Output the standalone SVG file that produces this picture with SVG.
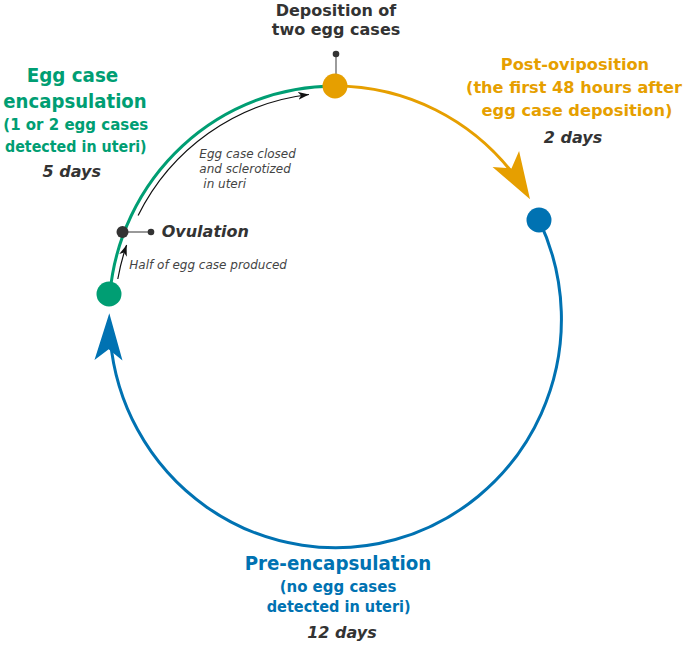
<svg xmlns="http://www.w3.org/2000/svg" width="693" height="646" viewBox="0 0 693 646">
<style>
text{font-family:"DejaVu Sans","Liberation Sans",sans-serif;}
.t{font-weight:bold;text-anchor:middle;}
.green{fill:#009E73;}
.orange{fill:#E69F00;}
.blue{fill:#0072B2;}
.gray{fill:#333333;}
.days{font-weight:bold;font-style:italic;font-size:16px;fill:#333333;text-anchor:middle;}
.note{font-style:italic;font-size:12px;fill:#444444;}
.arc{fill:none;stroke-width:3;}
.thin{fill:none;stroke:#111111;stroke-width:1.2;}
</style>
<defs>
<marker id="ah" markerUnits="userSpaceOnUse" markerWidth="12" markerHeight="10" refX="11" refY="4.5" orient="auto" viewBox="0 0 12 10">
<path d="M0,0.5 L11,4.5 L0,8.5 L3,4.5 z" fill="#111111"/>
</marker>
</defs>

<g id="connectors">
<path id="arc-green" class="arc" stroke="#009E73" d="M109.9 294 A226 228.5 0 0 1 335 86"/>
<path id="arc-orange" class="arc" stroke="#E69F00" d="M335 86 A226 228.5 0 0 1 515.5 177"/>
<polygon id="head-orange" fill="#E69F00" points="0,0 -47,-15.5 -36,0 -47,15.5" transform="translate(530 199.3) rotate(59)"/>
<path id="arc-blue" class="arc" stroke="#0072B2" d="M539 220 A226 228.5 0 1 1 110.3 339.3"/>
<polygon id="head-blue" fill="#0072B2" points="0,0 -47,-14 -36,0 -47,14" transform="translate(109.3 313.3) rotate(-89)"/>
<path id="arrow-closed" class="thin" marker-end="url(#ah)" d="M138.1 215.5 A220 222 0 0 1 309 94.5"/>
<path id="arrow-half" class="thin" marker-end="url(#ah)" d="M117.8 279 A220 222 0 0 1 126.6 245"/>
<line x1="122.5" y1="232" x2="151" y2="232" stroke="#555555" stroke-width="1.2"/>
<line x1="336" y1="54" x2="336" y2="75" stroke="#666666" stroke-width="1.3"/>
</g>

<g id="node-deposition">
<circle cx="336" cy="54" r="3.3" fill="#333333"/>
<circle cx="335" cy="86" r="12.5" fill="#E69F00"/>
<text class="t gray" font-size="16" x="336" y="16">Deposition of</text>
<text class="t gray" font-size="16" x="336" y="35">two egg cases</text>
</g>

<g id="node-post-oviposition">
<circle cx="539" cy="220" r="12.5" fill="#0072B2"/>
<text class="t orange" font-size="16.5" x="575" y="70" textLength="148.3" lengthAdjust="spacingAndGlyphs">Post-oviposition</text>
<text class="t orange" font-size="16.5" x="574" y="93.3" textLength="216" lengthAdjust="spacingAndGlyphs">(the first 48 hours after</text>
<text class="t orange" font-size="16.5" x="577" y="116" textLength="191" lengthAdjust="spacingAndGlyphs">egg case deposition)</text>
<text class="days" x="573" y="143.3">2 days</text>
</g>

<g id="node-encapsulation">
<circle cx="109" cy="294" r="12.5" fill="#009E73"/>
<text class="t green" font-size="19" x="72.5" y="81.7" textLength="91.6" lengthAdjust="spacingAndGlyphs">Egg case</text>
<text class="t green" font-size="19" x="75" y="108.3" textLength="143.4" lengthAdjust="spacingAndGlyphs">encapsulation</text>
<text class="t green" font-size="16" x="75.8" y="130" textLength="145" lengthAdjust="spacingAndGlyphs">(1 or 2 egg cases</text>
<text class="t green" font-size="16" x="75.8" y="151.7" textLength="141.7" lengthAdjust="spacingAndGlyphs">detected in uteri)</text>
<text class="days" x="71.7" y="176.7">5 days</text>
</g>

<g id="node-ovulation">
<circle cx="122.5" cy="232" r="6" fill="#333333"/>
<circle cx="151" cy="232" r="3.3" fill="#333333"/>
<text x="161.7" y="236.7" font-size="16" font-weight="bold" font-style="italic" fill="#333333">Ovulation</text>
</g>

<g id="labels-notes">
<text class="note" x="199.3" y="158.3">Egg case closed</text>
<text class="note" x="199.3" y="173.3">and sclerotized</text>
<text class="note" x="203.3" y="188.3">in uteri</text>
<text class="note" x="129.3" y="269.3">Half of egg case produced</text>
</g>

<g id="node-pre-encapsulation">
<text class="t blue" font-size="19" x="338" y="570" textLength="186.7" lengthAdjust="spacingAndGlyphs">Pre-encapsulation</text>
<text class="t blue" font-size="16" x="338" y="591.7" textLength="116.7" lengthAdjust="spacingAndGlyphs">(no egg cases</text>
<text class="t blue" font-size="16" x="338.7" y="611.7" textLength="144" lengthAdjust="spacingAndGlyphs">detected in uteri)</text>
<text class="days" x="342" y="638.3">12 days</text>
</g>
</svg>
